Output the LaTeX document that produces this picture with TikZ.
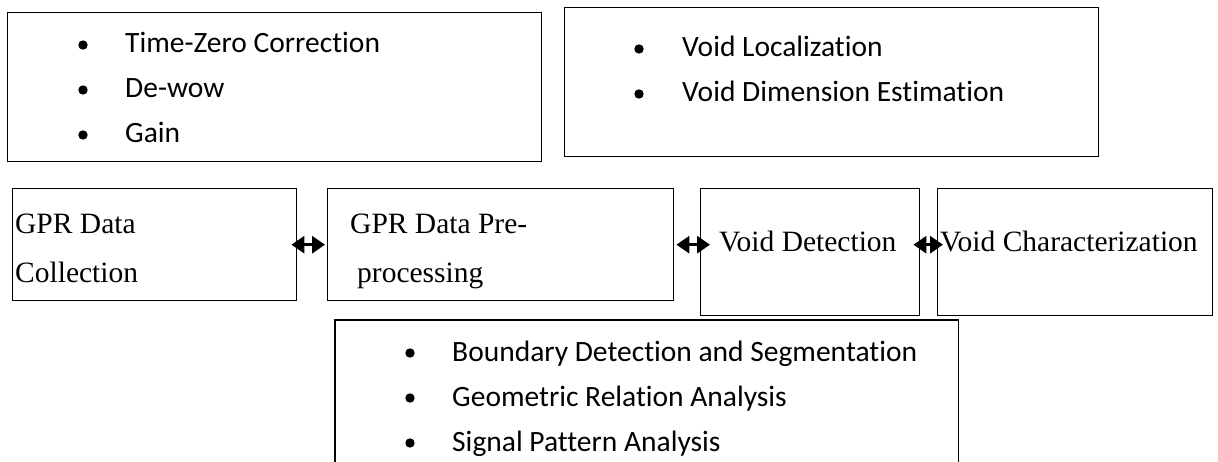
\documentclass[tikz,border=0pt]{standalone}
\usepackage{fontspec}
\setmainfont{Liberation Serif}
\newfontfamily\listfont[Ligatures={NoCommon}]{Carlito}
\usetikzlibrary{arrows.meta}
\begin{document}
\begin{tikzpicture}[x=1pt,y=-1pt,
  box/.style={draw, line width=1.4pt, anchor=north west, inner sep=0pt},
  item/.style={anchor=base west, inner sep=0pt, font=\listfont\fontsize{29.5}{34}\selectfont},
  stage/.style={anchor=base west, inner sep=0pt, font=\fontsize{29.5}{35}\selectfont},
  bulletdot/.style={fill=black},
  link/.style={line width=3pt,
    {Triangle[length=13pt,width=17pt]}-{Triangle[length=13pt,width=17pt]}}
]
\useasboundingbox (0,0) rectangle (1218,462);

% ---- upper detail boxes ----
\node[box, minimum width=534pt, minimum height=149pt] (prepsteps) at (7,12) {};
\node[box, minimum width=534pt, minimum height=149pt] (charsteps) at (564,7) {};

\foreach \y in {45,90,135} \fill[bulletdot] (83,\y) circle (4.7pt);
\node[item] (t1) at (125,53)  {Time-Zero Correction};
\node[item] (t2) at (125,98)  {De-wow};
\node[item] (t3) at (125,143) {Gain};

\foreach \y in {49,94} \fill[bulletdot] (639,\y) circle (4.7pt);
\node[item] (c1) at (682,57)  {Void Localization};
\node[item] (c2) at (682,102) {Void Dimension Estimation};

% ---- main workflow stages ----
\node[box, minimum width=284pt, minimum height=112pt] (coll) at (12,188)  {};
\node[box, minimum width=346pt, minimum height=112pt] (prep) at (327,188) {};
\node[box, minimum width=219pt, minimum height=127pt] (det)  at (700,188) {};
\node[box, minimum width=275pt, minimum height=127pt] (char) at (937,188) {};

\node[stage] (coll1) at (15,234)  {GPR Data};
\node[stage] (coll2) at (15,283)  {Collection};
\node[stage] (prep1) at (350,234) {GPR Data Pre-};
\node[stage] (prep2) at (357,283) {processing};
\node[stage] (detl)  at (719,252) {Void Detection};
\node[stage] (charl) at (940,252) {Void Characterization};

% ---- links between stages ----
\draw[link] ([xshift=-6pt]coll.east) -- ([xshift=-2pt]prep.west);
\draw[link] ([xshift=2pt]prep.east) -- ([xshift=10pt]det.west |- prep.east);
\draw[link] ([xshift=-7pt]det.east |- prep.east) -- ([xshift=6pt]char.west |- prep.east);

% ---- lower detail box (open at the bottom) ----
\node[anchor=north west, inner sep=0pt, minimum width=623pt, minimum height=142pt] (detsteps) at (335,320) {};
\draw[line width=1.4pt] (detsteps.south west) -- (detsteps.north west)
  -- (detsteps.north east) -- (detsteps.south east);

\foreach \y in {353,398,443} \fill[bulletdot] (410,\y) circle (4.7pt);
\node[item] (d1) at (452,361) {Boundary Detection and Segmentation};
\node[item] (d2) at (452,406) {Geometric Relation Analysis};
\node[item] (d3) at (452,451) {Signal Pattern Analysis};
\end{tikzpicture}
\end{document}
